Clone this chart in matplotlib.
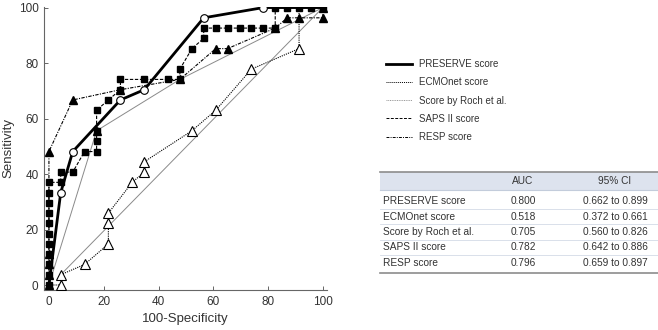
import matplotlib
matplotlib.use('Agg')
import matplotlib.pyplot as plt
from matplotlib.lines import Line2D

plt.rcParams['font.family'] = ['Liberation Sans', 'DejaVu Sans']

# ROC points (100-specificity, sensitivity)
pre_x = [0, 4.3, 8.7, 26.1, 34.8, 56.5, 78.3, 100]
pre_y = [0, 33.3, 48.1, 66.7, 70.4, 96.3, 100, 100]

ecmo_x = [0, 4.3, 4.3, 13.0, 21.7, 21.7, 21.7, 30.4, 34.8, 34.8, 52.2, 60.9, 73.9, 91.3, 91.3, 100]
ecmo_y = [0, 0, 3.7, 7.4, 14.8, 22.2, 25.9, 37.0, 40.7, 44.4, 55.6, 63.0, 77.8, 85.2, 100, 100]

roch_x = [0, 17.4, 47.8, 100]
roch_y = [0, 55.6, 74.1, 100]
roch2_x = [4.3, 100]
roch2_y = [3.7, 100]

saps_x = [0, 0, 0, 0, 0, 0, 0, 0, 0, 0, 0, 4.3, 4.3, 8.7, 13.0, 17.4, 17.4, 17.4, 17.4,
          21.7, 26.1, 26.1, 34.8, 43.5, 47.8, 47.8, 52.2, 56.5, 56.5, 60.9, 65.2, 69.6,
          73.9, 78.3, 82.6, 82.6, 87.0, 91.3, 95.7, 100]
saps_y = [0, 3.7, 7.4, 11.1, 14.8, 18.5, 22.2, 25.9, 29.6, 33.3, 37.0, 37.0, 40.7, 40.7,
          48.1, 48.1, 51.9, 55.6, 63.0, 66.7, 70.4, 74.1, 74.1, 74.1, 74.1, 77.8, 85.2,
          88.9, 92.6, 92.6, 92.6, 92.6, 92.6, 92.6, 92.6, 100, 100, 100, 100, 100]

resp_x = [0, 0, 0, 0, 0, 8.7, 26.1, 47.8, 60.9, 65.2, 82.6, 87.0, 91.3, 100, 100]
resp_y = [0, 3.7, 7.4, 11.1, 48.1, 66.7, 70.4, 74.1, 85.2, 85.2, 92.6, 96.3, 96.3, 96.3, 100]

# AUC table
names = ['PRESERVE score', 'ECMOnet score', 'Score by Roch et al.', 'SAPS II score', 'RESP score']
auc = ['0.800', '0.518', '0.705', '0.782', '0.796']
ci = ['0.662 to 0.899', '0.372 to 0.661', '0.560 to 0.826', '0.642 to 0.886', '0.659 to 0.897']

txt = '#333333'

fig = plt.figure(figsize=(6.58, 3.3), dpi=100)
ax = fig.add_axes([44 / 658, 1 - 290 / 330, 283 / 658, 283 / 330])

ax.plot(roch_x, roch_y, color='#8a8a8a', lw=0.7, marker='^', markersize=5.5,
        markerfacecolor='black', markeredgecolor='black', markevery=[1], zorder=2)
ax.plot(roch2_x, roch2_y, color='#8a8a8a', lw=0.7, zorder=2)
ax.plot(ecmo_x, ecmo_y, color='black', lw=0.8, ls=(0, (1, 1)), marker='^', markersize=7,
        markerfacecolor='white', markeredgecolor='black', markeredgewidth=0.8,
        markevery=list(range(1, 14)), zorder=3)
ax.plot(saps_x, saps_y, color='black', lw=0.8, ls=(0, (3, 1.5)), marker='s', markersize=5,
        markerfacecolor='black', markeredgecolor='black', zorder=3)
ax.plot(resp_x, resp_y, color='black', lw=0.8, ls=(0, (3, 1.2, 1, 1.2)), marker='^',
        markersize=6, markerfacecolor='black', markeredgecolor='black', zorder=3)
ax.plot(pre_x, pre_y, color='black', lw=2.0, marker='o', markersize=5.5,
        markerfacecolor='white', markeredgecolor='black', markeredgewidth=0.8,
        markevery=list(range(1, 7)), zorder=4)

ax.set_xlim(-1.8, 101.5)
ax.set_ylim(-1.8, 100.2)
ax.set_xticks([0, 20, 40, 60, 80, 100])
ax.set_yticks([0, 20, 40, 60, 80, 100])
ax.spines['top'].set_visible(False)
ax.spines['right'].set_visible(False)
for s in ['left', 'bottom']:
    ax.spines[s].set_color('#666666')
    ax.spines[s].set_linewidth(0.8)
ax.tick_params(direction='in', length=3, width=0.7, color='#666666', labelsize=8.5,
               labelcolor=txt, pad=4)
ax.set_xlabel('100-Specificity', fontsize=9.5, color=txt, labelpad=4)
ax.set_ylabel('Sensitivity', fontsize=9.5, color=txt)
ax.yaxis.set_label_coords(-0.105, 0.5)

# legend
handles = [
    Line2D([], [], color='black', lw=2.0),
    Line2D([], [], color='black', lw=0.7, ls=(0, (1, 1))),
    Line2D([], [], color='#999999', lw=0.7, ls=(0, (1, 0.8))),
    Line2D([], [], color='black', lw=0.7, ls=(0, (3, 1.5))),
    Line2D([], [], color='black', lw=0.7, ls=(0, (3, 1.2, 1, 1.2))),
]
leg = fig.legend(handles, names, loc='upper left', bbox_to_anchor=(386 / 658, 1 - 59 / 330),
                 frameon=False, fontsize=7, handlelength=2.7, handletextpad=0.7,
                 labelspacing=0.85, borderpad=0, borderaxespad=0)
for t in leg.get_texts():
    t.set_color(txt)

# table drawn in pixel coordinates
tax = fig.add_axes([0, 0, 1, 1])
tax.set_xlim(0, 658)
tax.set_ylim(330, 0)
tax.axis('off')
tax.fill_between([380, 658], 172, 190, color='#dde3ee', lw=0)
tax.plot([380, 658], [172, 172], color='#8c8c8c', lw=1.2)
tax.plot([380, 658], [272.5, 272.5], color='#8c8c8c', lw=1.2)
tax.plot([380, 658], [190, 190], color='#c3ccdb', lw=0.8)
for yy in [209, 224, 240, 255]:
    tax.plot([380, 658], [yy, yy], color='#d3dae6', lw=0.6)
tax.text(523, 181, 'AUC', ha='center', va='center', fontsize=7.3, color=txt)
tax.text(615, 181, '95% CI', ha='center', va='center', fontsize=7.3, color=txt)
row_y = [201.5, 216.5, 232, 247.5, 263]
for i in range(len(names)):
    tax.text(383, row_y[i], names[i], ha='left', va='center', fontsize=7.3, color=txt)
    tax.text(523, row_y[i], auc[i], ha='center', va='center', fontsize=7.3, color=txt)
    tax.text(615, row_y[i], ci[i], ha='center', va='center', fontsize=7.3, color=txt)

fig.savefig('out.png', dpi=100)
